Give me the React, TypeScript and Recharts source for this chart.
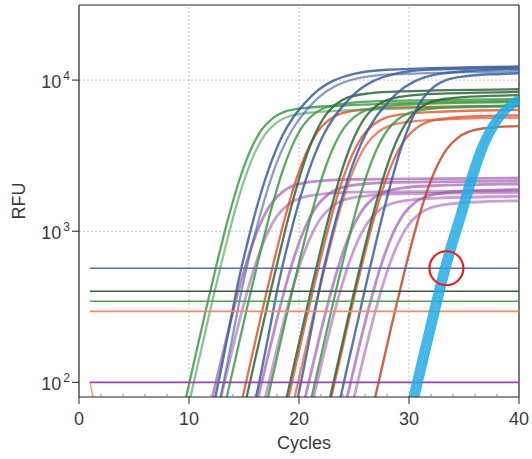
import { LineChart, Line, XAxis, YAxis, ReferenceLine, ReferenceDot } from "recharts";

type Pt = [number, number];

// amplification curves, [cycle, RFU]
const blue1: Pt[] = [[10.5, 25], [12.4, 80], [13.5, 200], [14.5, 470], [15.5, 950], [16.5, 1750], [17.5, 2900], [18.5, 4300], [19.5, 5700], [20.5, 7000], [21.5, 8300], [23, 9800], [25, 11000], [28, 11700], [40, 12300]];
const blue1b: Pt[] = [[10.9, 24], [12.8, 76], [13.9, 190], [14.9, 445], [15.9, 900], [16.9, 1650], [17.9, 2750], [18.9, 4050], [19.9, 5350], [20.9, 6600], [21.9, 7800], [23.4, 9200], [25.4, 10300], [28.4, 10900], [40, 11400]];
const blue2: Pt[] = [[14.2, 25], [16.1, 80], [17.2, 200], [18.2, 470], [19.2, 950], [20.2, 1750], [21.2, 2900], [22.2, 4300], [23.2, 5700], [24.2, 7000], [25.2, 8300], [26.7, 9800], [28.7, 11000], [31.7, 11700], [40, 12100]];
const blue3: Pt[] = [[18, 25], [19.9, 80], [21, 200], [22, 470], [23, 950], [24, 1750], [25, 2900], [26, 4300], [27, 5700], [28, 7000], [29, 8300], [30.5, 9800], [32.5, 10900], [35.5, 11500], [40, 11800]];
const blue4: Pt[] = [[22.3, 26], [24.3, 118], [26.3, 515], [27.3, 1042], [28.3, 2016], [29.3, 3584], [30.3, 5600], [31.3, 7616], [32.3, 9072], [33.3, 9968], [35.3, 10640], [38.3, 10976], [40, 11100]];

const green1: Pt[] = [[7.6, 16], [9.6, 72], [11.6, 317], [12.6, 642], [13.6, 1242], [14.6, 2208], [15.6, 3450], [16.6, 4692], [17.6, 5589], [18.6, 6141], [20.6, 6555], [23.6, 6762], [40, 7300]];
const green1b: Pt[] = [[7.9, 15], [9.9, 67], [11.9, 294], [12.9, 595], [13.9, 1152], [14.9, 2048], [15.9, 3200], [16.9, 4352], [17.9, 5184], [18.9, 5696], [20.9, 6080], [23.9, 6272], [40, 6700]];
const green2: Pt[] = [[11.4, 17], [13.4, 78], [15.4, 340], [16.4, 688], [17.4, 1332], [18.4, 2368], [19.4, 3700], [20.4, 5032], [21.4, 5994], [22.4, 6586], [24.4, 7030], [27.4, 7252], [40, 7500]];
const green3: Pt[] = [[15.1, 16], [17.1, 75], [19.1, 327], [20.1, 660], [21.1, 1278], [22.1, 2272], [23.1, 3550], [24.1, 4828], [25.1, 5751], [26.1, 6319], [28.1, 6745], [31.1, 6958], [40, 7150]];
const green4: Pt[] = [[19, 16], [21, 71], [23, 313], [24, 632], [25, 1224], [26, 2176], [27, 3400], [28, 4624], [29, 5508], [30, 6052], [32, 6460], [35, 6664], [40, 6800]];

const dark1: Pt[] = [[13.4, 20], [15.4, 90], [17.4, 396], [18.4, 800], [19.4, 1548], [20.4, 2752], [21.4, 4300], [22.4, 5848], [23.4, 6966], [24.4, 7654], [26.4, 8170], [29.4, 8428], [40, 8700]];
const dark2: Pt[] = [[17, 19], [19, 87], [21, 382], [22, 772], [23, 1494], [24, 2656], [25, 4150], [26, 5644], [27, 6723], [28, 7387], [30, 7885], [33, 8134], [40, 8350]];
const dark3: Pt[] = [[20.9, 18], [22.9, 84], [24.9, 368], [25.9, 744], [26.9, 1440], [27.9, 2560], [28.9, 4000], [29.9, 5440], [30.9, 6480], [31.9, 7120], [33.9, 7600], [36.9, 7840], [40, 7950]];

const red1: Pt[] = [[12.7, 15], [14.7, 70], [16.7, 308], [17.7, 623], [18.7, 1206], [19.7, 2144], [20.7, 3350], [21.7, 4556], [22.7, 5427], [23.7, 5963], [25.7, 6365], [28.7, 6566], [40, 6750]];
const red2: Pt[] = [[16.8, 14], [18.8, 66], [20.8, 290], [21.8, 586], [22.8, 1134], [23.8, 2016], [24.8, 3150], [25.8, 4284], [26.8, 5103], [27.8, 5607], [29.8, 5985], [32.8, 6174], [40, 6350]];
const red2b: Pt[] = [[17.2, 13], [19.2, 59], [21.2, 258], [22.2, 521], [23.2, 1008], [24.2, 1792], [25.2, 2800], [26.2, 3808], [27.2, 4536], [28.2, 4984], [30.2, 5320], [33.2, 5488], [40, 5650]];
const red3: Pt[] = [[20.6, 14], [22.6, 62], [24.6, 271], [25.6, 549], [26.6, 1062], [27.6, 1888], [28.6, 2950], [29.6, 4012], [30.6, 4779], [31.6, 5251], [33.6, 5605], [36.6, 5782], [40, 5850]];
const red4: Pt[] = [[24.4, 12], [26.4, 54], [28.4, 235], [29.4, 474], [30.4, 918], [31.4, 1632], [32.4, 2550], [33.4, 3468], [34.4, 4131], [35.4, 4539], [37.4, 4845], [40, 4960]];

const purple1: Pt[] = [[8.5, 5], [10.5, 24], [12.5, 104], [13.5, 209], [14.5, 405], [15.5, 720], [16.5, 1125], [17.5, 1530], [18.5, 1823], [19.5, 2003], [21.5, 2138], [24.5, 2205], [40, 2250]];
const purple1b: Pt[] = [[9, 4], [11, 19], [13, 85], [14, 172], [15, 333], [16, 592], [17, 925], [18, 1258], [19, 1499], [20, 1647], [22, 1758], [25, 1813], [40, 1850]];
const purple2: Pt[] = [[12.6, 5], [14.6, 23], [16.6, 99], [17.6, 200], [18.6, 387], [19.6, 688], [20.6, 1075], [21.6, 1462], [22.6, 1742], [23.6, 1914], [25.6, 2043], [28.6, 2107], [40, 2150]];
const purple2b: Pt[] = [[13, 4], [15, 19], [17, 83], [18, 167], [19, 324], [20, 576], [21, 900], [22, 1224], [23, 1458], [24, 1602], [26, 1710], [29, 1764], [40, 1800]];
const purple3: Pt[] = [[16.8, 5], [18.8, 22], [20.8, 94], [21.8, 191], [22.8, 369], [23.8, 656], [24.8, 1025], [25.8, 1394], [26.8, 1661], [27.8, 1825], [29.8, 1948], [32.8, 2009], [40, 2050]];
const purple3b: Pt[] = [[17.3, 4], [19.3, 18], [21.3, 78], [22.3, 158], [23.3, 306], [24.3, 544], [25.3, 850], [26.3, 1156], [27.3, 1377], [28.3, 1513], [30.3, 1615], [33.3, 1666], [40, 1700]];
const purple4: Pt[] = [[20.5, 4], [22.5, 20], [24.5, 87], [25.5, 177], [26.5, 342], [27.5, 608], [28.5, 950], [29.5, 1292], [30.5, 1539], [31.5, 1691], [33.5, 1805], [36.5, 1862], [40, 1890]];
const purple4b: Pt[] = [[20.9, 4], [22.9, 17], [24.9, 74], [25.9, 149], [26.9, 288], [27.9, 512], [28.9, 800], [29.9, 1088], [30.9, 1296], [31.9, 1424], [33.9, 1520], [36.9, 1568], [40, 1590]];

const cyan1: Pt[] = [[28.5, 25], [30.2, 80], [31.5, 200], [32.5, 400], [33.5, 750], [34.5, 1300], [35.5, 2300], [36.5, 3700], [37.5, 5100], [38.5, 6300], [39.5, 7300], [40, 7700]];
const cyan2: Pt[] = [[29, 25], [30.7, 80], [32, 200], [33, 400], [34, 750], [35, 1300], [36, 2300], [37, 3700], [38, 5100], [39, 6300], [40, 7200]];

const blip: Pt[] = [[1, 100], [1.4, 72]];

// threshold levels (RFU), drawn from cycle 1 to 40
const thresholdLevels = [569, 401, 344, 295, 100];
const thresholdSpan = [1, 40];

const xTicks = [0, 2, 4, 6, 8, 10, 12, 14, 16, 18, 20, 22, 24, 26, 28, 30, 32, 34, 36, 38, 40];
const yTicks = [100, 1000, 10000];
const gridX = [10, 20, 30];
const gridY = [1000, 10000];

// the circled crossing point
const marker = { cycle: 33.4, rfu: 569 };

const BLUE = "#3b5d9f";
const GREEN = "#3f9b47";
const DARK = "#2e6538";
const RED = "#e4532f";
const PURPLE = "#9a52ae";
const CYAN = "#22ace4";

const curves = [
  { d: purple1, c: PURPLE, w: 2.8, o: 0.65 },
  { d: purple1b, c: PURPLE, w: 2.8, o: 0.55 },
  { d: purple2, c: PURPLE, w: 2.8, o: 0.65 },
  { d: purple2b, c: PURPLE, w: 2.8, o: 0.55 },
  { d: purple3, c: PURPLE, w: 2.8, o: 0.65 },
  { d: purple3b, c: PURPLE, w: 2.8, o: 0.55 },
  { d: purple4, c: PURPLE, w: 2.8, o: 0.65 },
  { d: purple4b, c: PURPLE, w: 2.8, o: 0.55 },
  { d: red1, c: RED, w: 2.3, o: 0.85 },
  { d: red2, c: RED, w: 2.3, o: 0.8 },
  { d: red2b, c: RED, w: 2.3, o: 0.7 },
  { d: red3, c: RED, w: 2.3, o: 0.8 },
  { d: red4, c: "#c04a2a", w: 2.4, o: 0.85 },
  { d: green1, c: GREEN, w: 2.3, o: 0.85 },
  { d: green1b, c: GREEN, w: 2.3, o: 0.6 },
  { d: green2, c: GREEN, w: 2.3, o: 0.85 },
  { d: green3, c: GREEN, w: 2.3, o: 0.85 },
  { d: green4, c: GREEN, w: 2.3, o: 0.85 },
  { d: dark1, c: DARK, w: 2.3, o: 0.85 },
  { d: dark2, c: DARK, w: 2.3, o: 0.85 },
  { d: dark3, c: DARK, w: 2.3, o: 0.85 },
  { d: blue1, c: BLUE, w: 2.4, o: 0.85 },
  { d: blue1b, c: BLUE, w: 2.3, o: 0.6 },
  { d: blue2, c: BLUE, w: 2.4, o: 0.85 },
  { d: blue3, c: BLUE, w: 2.4, o: 0.85 },
  { d: blue4, c: BLUE, w: 2.4, o: 0.85 },
];

const thresholdColors = ["#5d6ca8", "#3d5a3d", "#55a055", "#ef8b6b", "#9448a8"];

const toRows = (pts: Pt[]) => pts.map(([cycle, rfu]) => ({ cycle, rfu }));

const FONT = "'Liberation Sans', Arial, sans-serif";

const CycleTick = (props: any) => {
  const { x, y, payload } = props;
  if (payload.value % 10 !== 0) {
    return <line x1={x} x2={x} y1={y} y2={y - 3} stroke="#888" />;
  }
  return (
    <g>
      <line x1={x} x2={x} y1={y} y2={y + 7} stroke="#222" />
      <text x={x} y={y + 28} textAnchor="middle" fontSize={18} fill="#3a3a3a" fontFamily={FONT}>
        {payload.value}
      </text>
    </g>
  );
};

const PowerTick = (props: any) => {
  const { x, y, payload } = props;
  const exp = Math.round(Math.log10(payload.value));
  return (
    <g>
      <line x1={x} x2={x - 7} y1={y} y2={y} stroke="#222" />
      <text x={x - 9} y={y + 8} textAnchor="end" fontSize={18} fill="#3a3a3a" fontFamily={FONT}>
        10
        <tspan dx={2} dy={-8} fontSize={12}>
          {exp}
        </tspan>
      </text>
    </g>
  );
};

const XTitle = (props: any) => {
  const vb = props.viewBox;
  return (
    <text x={vb.x + vb.width / 2 + 5} y={vb.y + 52} textAnchor="middle" fontSize={18} fill="#3a3a3a" fontFamily={FONT}>
      Cycles
    </text>
  );
};

const YTitle = (props: any) => {
  const vb = props.viewBox;
  return (
    <text
      transform={`translate(${vb.x + 6}, ${vb.y + vb.height / 2}) rotate(-90)`}
      textAnchor="middle"
      fontSize={18}
      fill="#3a3a3a"
      fontFamily={FONT}
    >
      RFU
    </text>
  );
};

export default function App() {
  return (
    <div style={{ position: "absolute", left: 0, top: 0, width: 532, height: 459, background: "#fff" }}>
      <LineChart width={532} height={459} margin={{ top: 5, right: 13, bottom: 32, left: 19 }}>
        <XAxis
          dataKey="cycle"
          type="number"
          domain={[0, 40]}
          ticks={xTicks}
          interval={0}
          allowDataOverflow
          tickSize={0}
          tickMargin={0}
          tickLine={false}
          tick={<CycleTick />}
          axisLine={{ stroke: "#222", strokeWidth: 1.2 }}
          height={30}
          label={<XTitle />}
        />
        <YAxis
          dataKey="rfu"
          type="number"
          scale="log"
          domain={[80, 31400]}
          ticks={yTicks}
          interval={0}
          allowDataOverflow
          tickSize={0}
          tickMargin={0}
          tickLine={false}
          tick={<PowerTick />}
          axisLine={{ stroke: "#222", strokeWidth: 1.2 }}
          width={60}
          label={<YTitle />}
        />

        {gridX.map((v) => (
          <ReferenceLine key={"gx" + v} x={v} stroke="#c4c4c4" strokeDasharray="2 2" />
        ))}
        {gridY.map((v) => (
          <ReferenceLine key={"gy" + v} y={v} stroke="#c4c4c4" strokeDasharray="2 2" />
        ))}
        <ReferenceLine x={40} stroke="#222" strokeWidth={1.2} />
        <ReferenceLine y={31400} stroke="#222" strokeWidth={1.2} />

        {curves.map((s, i) => (
          <Line
            key={"c" + i}
            data={toRows(s.d)}
            dataKey="rfu"
            type="monotone"
            stroke={s.c}
            strokeWidth={s.w}
            strokeOpacity={s.o}
            dot={false}
            activeDot={false}
            isAnimationActive={false}
          />
        ))}

        <Line
          data={toRows(blip)}
          dataKey="rfu"
          type="linear"
          stroke="#f0a080"
          strokeWidth={1.5}
          dot={false}
          activeDot={false}
          isAnimationActive={false}
        />

        {thresholdLevels.map((v, i) => (
          <Line
            key={"t" + i}
            data={thresholdSpan.map((cycle) => ({ cycle, rfu: v }))}
            dataKey="rfu"
            type="linear"
            stroke={thresholdColors[i]}
            strokeWidth={1.6}
            dot={false}
            activeDot={false}
            isAnimationActive={false}
          />
        ))}

        {[cyan1, cyan2].map((d, i) => (
          <Line
            key={"cy" + i}
            data={toRows(d)}
            dataKey="rfu"
            type="monotone"
            stroke={CYAN}
            strokeWidth={5.5}
            strokeOpacity={0.85}
            dot={false}
            activeDot={false}
            isAnimationActive={false}
          />
        ))}

        <ReferenceDot
          x={marker.cycle}
          y={marker.rfu}
          r={17}
          fill="none"
          stroke="#e02424"
          strokeWidth={2.2}
        />
      </LineChart>
    </div>
  );
}
